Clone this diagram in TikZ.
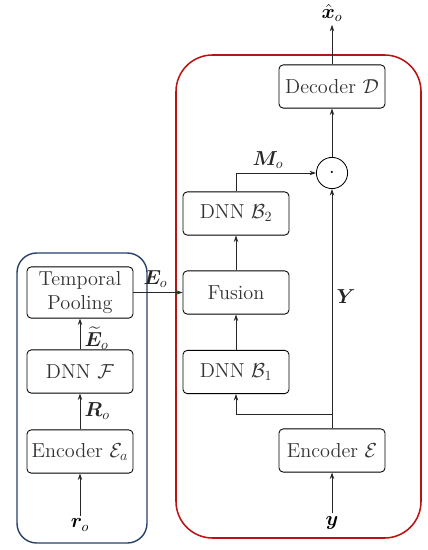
\documentclass[tikz,border=0pt]{standalone}
\usepackage{amsmath,amsfonts,bm}
\usepackage{xcolor}
\usetikzlibrary{arrows.meta, positioning, calc}

\definecolor{framered}{RGB}{185,20,20}
\definecolor{frameblue}{RGB}{40,65,105}

\begin{document}
\begin{tikzpicture}[
        x=0.025cm, y=-0.025cm,
        blockbox/.style={rectangle, rounded corners=3pt, draw=black, fill=white, line width=0.6pt, minimum width=2.65cm, minimum height=1.08cm, align=center, font=\Large, text=black!80},
        sigbox/.style={inner sep=2pt, font=\Large},
        arrowstyle/.style={-{Stealth[length=1.6mm, width=1.1mm]}, line width=0.6pt, color=black!85}
    ]
        \useasboundingbox (0,0) rectangle (427,550);

        % Frames
        \draw[frameblue, line width=1pt, rounded corners=14pt] (17,253) rectangle (147,543);
        \draw[framered, line width=1.1pt, rounded corners=26pt] (176,55) rectangle (421,538);

        % Left Column
        \node[blockbox, text width=2.5cm, inner sep=1pt, minimum height=1.28cm] (tp) at (80, 292.5) {Temporal\\[-1pt]Pooling};
        \node[blockbox] (dnnf) at (80, 371.5) {DNN $\mathcal{F}$};
        \node[blockbox] (enca) at (80, 451.5) {Encoder $\mathcal{E}_a$};
        \node[sigbox] (ro) at (80, 525) {$\bm{r}_o$};

        % Right Column
        \node[blockbox] (dec) at (332, 86.5) {Decoder $\mathcal{D}$};
        \node[circle, draw=black, line width=0.6pt, minimum size=0.78cm, inner sep=0pt, font=\Large] (mult) at (332, 173) {$\cdot$};
        \node[blockbox] (b2) at (236, 213.5) {DNN $\mathcal{B}_2$};
        \node[blockbox] (fus) at (236, 292.5) {Fusion};
        \node[blockbox] (b1) at (236, 372) {DNN $\mathcal{B}_1$};
        \node[blockbox] (enc) at (332, 450.5) {Encoder $\mathcal{E}$};
        \node[sigbox] (yin) at (332, 523) {$\bm{y}$};
        \node[sigbox] (xout) at (332, 13) {$\hat{\bm{x}}_o$};
        \coordinate (split) at (332, 414);

        % Left Flow
        \draw[arrowstyle] (ro) -- (enca);
        \draw[arrowstyle] (enca) -- node[right, sigbox, xshift=1pt] {$\bm{R}_o$} (dnnf);
        \draw[arrowstyle] (dnnf) -- node[right, sigbox, xshift=1pt, yshift=-3pt] {$\widetilde{\bm{E}}_o$} (tp);
        \draw[arrowstyle] (tp.east) -- node[above, sigbox, pos=0.45, yshift=1pt] {$\bm{E}_o$} (fus.west);

        % Right Flow
        \draw[arrowstyle] (yin) -- (enc);
        \draw[arrowstyle] (enc.north) -- node[right, sigbox, pos=0.55, xshift=1pt] {$\bm{Y}$} (mult.south);
        \draw[arrowstyle] (split) -| (b1.south);
        \draw[arrowstyle] (b1) -- (fus);
        \draw[arrowstyle] (fus) -- (b2);
        \draw[arrowstyle] (b2.north) |- node[above, sigbox, pos=0.7, yshift=1pt] {$\bm{M}_o$} (mult.west);
        \draw[arrowstyle] (mult) -- (dec);
        \draw[arrowstyle] (dec) -- (xout);
    \end{tikzpicture}
\end{document}
